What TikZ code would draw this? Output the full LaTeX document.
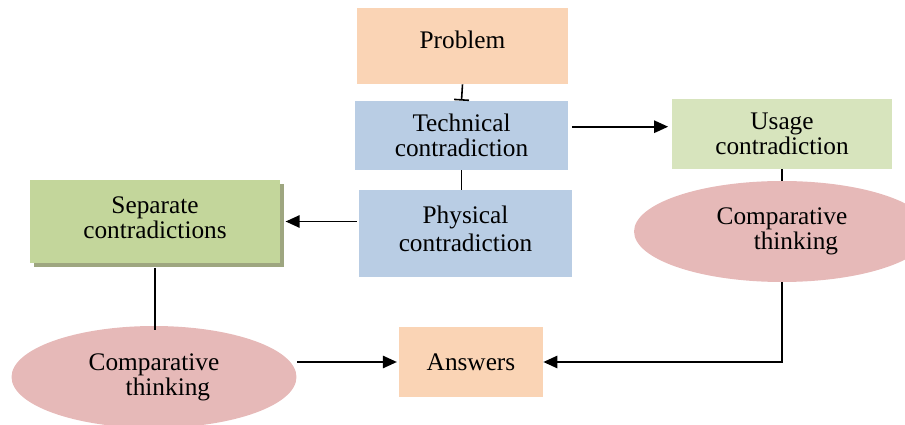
\documentclass[tikz,border=0pt]{standalone}
\usepackage{fontspec}
\setmainfont{Liberation Serif}
\usetikzlibrary{arrows.meta,positioning,calc,shadows,shapes.geometric}
\definecolor{trzpeche}{RGB}{250,212,181}
\definecolor{trzbleu}{RGB}{185,205,228}
\definecolor{trzvertc}{RGB}{215,228,189}
\definecolor{trzvert}{RGB}{195,214,155}
\definecolor{trzombre}{RGB}{158,166,128}
\definecolor{trzrose}{RGB}{230,185,184}

\begin{document}
\begin{tikzpicture}[x=0.02cm, y=-0.02cm,
  box/.style={rectangle, inner sep=0pt, align=center,
    font=\fontsize{14.4}{14.3}\selectfont},
  oval/.style={ellipse, fill=trzrose, inner sep=0pt, align=center,
    font=\fontsize{14.4}{14.3}\selectfont},
  arr/.style={-{Triangle[length=8pt,width=7pt]}, line width=1.1pt},
  lnk/.style={line width=0.9pt}
]
  \useasboundingbox (0,0) rectangle (905,425);

  % Problem
  \node[box, fill=trzpeche, minimum width=4.22cm, minimum height=1.52cm] (prob)
    at (462.5,46) {\raisebox{7pt}{Problem}};

  % Technical / Physical
  \node[box, fill=trzbleu, minimum width=4.26cm, minimum height=1.38cm] (tech)
    at (461.5,135.5) {Technical\\contradiction};
  \node[box, fill=trzbleu, minimum width=4.26cm, minimum height=1.74cm] (phys)
    at (465.5,233.5) {\raisebox{5pt}{Physical}\\\raisebox{5pt}{contradiction}};

  % Usage
  \node[box, fill=trzvertc, minimum width=4.4cm, minimum height=1.4cm] (usage)
    at (782,134) {Usage\\contradiction};

  % Separate
  \node[box, fill=trzvert, minimum width=5cm, minimum height=1.66cm,
    drop shadow={shadow xshift=2.2pt, shadow yshift=-2.4pt, fill=trzombre, opacity=1}] (sep)
    at (155,221.5) {\raisebox{4pt}{Separate}\\\raisebox{4pt}{contradictions}};

  % Comparative thinking
  \node[oval, minimum width=5.92cm, minimum height=2.02cm] (cmpr)
    at (782,231.5) {Comparative\\\hspace*{1.1em}thinking};
  \node[oval, minimum width=5.7cm, minimum height=2.04cm] (cmpl)
    at (154,377) {Comparative\\\hspace*{1.1em}thinking};

  % Answers
  \node[box, fill=trzpeche, minimum width=2.88cm, minimum height=1.4cm] (ans)
    at (471,362) {Answers};

  % Links
  \draw[lnk, -{Bar[width=8.5pt]}] (prob.south) -- (tech.north);
  \draw[lnk] (tech.south) -- (tech.south |- phys.north);
  \draw[arr] ([xshift=2pt,yshift=5pt]tech.east) -- ([xshift=-2pt,yshift=5pt]tech.east -| usage.west);
  \draw[arr] ([xshift=-1pt]phys.west |- sep.east) -- ([xshift=3pt]sep.east);
  \draw[lnk] ([yshift=-2.6pt]sep.south) -- ([yshift=-2.6pt]sep.south |- cmpl.north);
  \draw[lnk] (usage.south) -- (cmpr.north);
  \draw[arr] (cmpr.south) |- (ans.east);
  \draw[arr] (cmpl.east |- ans.west) -- ([xshift=-1pt]ans.west);
\end{tikzpicture}
\end{document}
